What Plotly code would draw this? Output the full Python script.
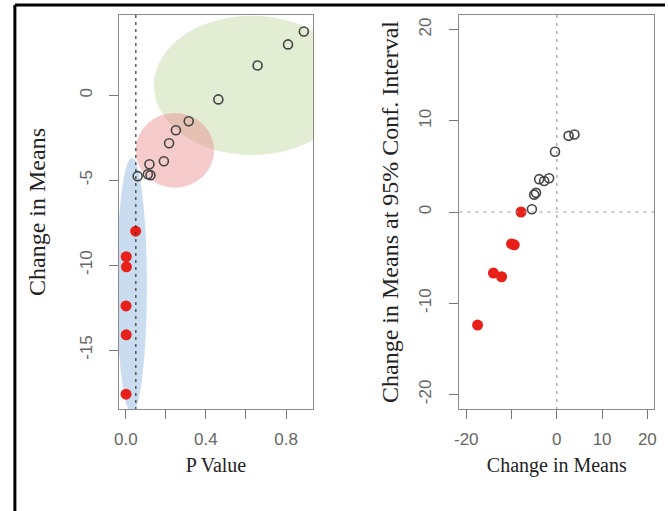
import plotly.graph_objects as go

# ---- Left panel data: P value vs change in means ----
p_sig = [0.049, 0.002, 0.003, 0.001, 0.002, 0.001]
change_sig = [-8.0, -9.5, -10.1, -12.4, -14.1, -17.6]
p_ns = [0.889, 0.81, 0.658, 0.462, 0.314, 0.25, 0.216, 0.19, 0.118, 0.123, 0.11, 0.059]
change_ns = [3.76, 3.0, 1.76, -0.24, -1.53, -2.06, -2.82, -3.88, -4.06, -4.7, -4.65, -4.76]
p_threshold = 0.05

# ---- Right panel data: change in means vs change at 95% conf. interval ----
mean_sig = [-7.9, -10.0, -9.4, -14.0, -12.2, -17.5]
ci_sig = [0.0, -3.5, -3.6, -6.7, -7.1, -12.4]
mean_ns = [3.9, 2.6, -0.4, -1.7, -2.8, -3.9, -4.6, -5.0, -5.5]
ci_ns = [8.5, 8.35, 6.6, 3.7, 3.4, 3.6, 2.1, 1.9, 0.3]

# ---- tick labels ----
left_x_ticks = [0.0, 0.2, 0.4, 0.6, 0.8]
left_x_labels = ["0.0", "", "0.4", "", "0.8"]
left_y_ticks = [0, -5, -10, -15]
left_y_labels = ["0", "-5", "-10", "-15"]
right_x_ticks = [-20, -10, 0, 10, 20]
right_x_labels = ["-20", "", "0", "10", "20"]
right_y_ticks = [-20, -10, 0, 10, 20]
right_y_labels = ["-20", "-10", "0", "10", "20"]

# ---- highlight ellipses (center x, center y, radius x, radius y) in left-panel data units ----
ell_blue = (0.03, -11.2, 0.075, 7.5)
ell_red = (0.245, -3.24, 0.196, 2.2)
ell_green = (0.63, 0.59, 0.49, 4.1)

W, H = 668, 511
fig = go.Figure()

sig_marker = dict(symbol="circle", size=11, color="#e8201a", line=dict(width=0))
ns_marker = dict(symbol="circle-open", size=9, color="#444444", line=dict(width=1.6))

fig.add_trace(go.Scatter(x=p_ns, y=change_ns, mode="markers", marker=ns_marker,
                         xaxis="x", yaxis="y", showlegend=False))
fig.add_trace(go.Scatter(x=p_sig, y=change_sig, mode="markers", marker=sig_marker,
                         xaxis="x", yaxis="y", showlegend=False))
fig.add_trace(go.Scatter(x=mean_ns, y=ci_ns, mode="markers", marker=ns_marker,
                         xaxis="x2", yaxis="y2", showlegend=False))
fig.add_trace(go.Scatter(x=mean_sig, y=ci_sig, mode="markers", marker=sig_marker,
                         xaxis="x2", yaxis="y2", showlegend=False))

shapes = []
for (cx, cy, rx, ry), col in [(ell_green, "rgba(190,215,160,0.45)"),
                              (ell_red, "rgba(232,140,140,0.45)"),
                              (ell_blue, "rgba(150,185,225,0.5)")]:
    shapes.append(dict(type="circle", xref="x", yref="y", x0=cx - rx, x1=cx + rx,
                       y0=cy - ry, y1=cy + ry, fillcolor=col, line=dict(width=0), layer="below"))

# threshold line
shapes.append(dict(type="line", xref="x", yref="paper", x0=p_threshold, x1=p_threshold,
                   y0=1 - 15 / H, y1=1 - 409 / H, line=dict(color="#333333", width=1.2, dash="3px,4px")))
# zero reference lines on right panel
shapes.append(dict(type="line", xref="x2", yref="paper", x0=0, x1=0,
                   y0=1 - 15 / H, y1=1 - 409 / H, line=dict(color="#999999", width=1.2, dash="3px,5px")))
shapes.append(dict(type="line", xref="paper", yref="y2", x0=460 / W, x1=657 / W,
                   y0=0, y1=0, line=dict(color="#999999", width=1.2, dash="3px,5px")))
# outer black frame (top & left)
shapes.append(dict(type="line", xref="paper", yref="paper", x0=10 / W, x1=1, y0=1 - 5 / H, y1=1 - 5 / H,
                   line=dict(color="black", width=3)))
shapes.append(dict(type="line", xref="paper", yref="paper", x0=10 / W, x1=10 / W, y0=0, y1=1 - 5 / H,
                   line=dict(color="black", width=3)))

axis_common = dict(showline=True, mirror=True, linecolor="#8a8a8a", linewidth=1.2,
                   ticks="outside", ticklen=9, tickcolor="#777777", tickwidth=1.2,
                   showgrid=False, zeroline=False,
                   tickfont=dict(family="Liberation Sans, Arial", size=17, color="#666666"))
xtitle_font = dict(family="Liberation Serif, Times New Roman", size=20, color="#222222")
ytitle_font = dict(family="Liberation Serif, Times New Roman", size=24, color="#222222")

fig.update_layout(
    width=W, height=H, margin=dict(l=0, r=0, t=0, b=0),
    paper_bgcolor="white", plot_bgcolor="rgba(0,0,0,0)",
    xaxis=dict(domain=[115 / W, 312 / W], range=[-0.036, 0.936], tickvals=left_x_ticks,
               ticktext=left_x_labels, ticklabelstandoff=5,
               title=dict(text="P Value", standoff=10, font=xtitle_font), anchor="y", **axis_common),
    yaxis=dict(domain=[1 - 409 / H, 1 - 15 / H], range=[-18.47, 4.73], tickvals=left_y_ticks,
               ticktext=left_y_labels, tickangle=-90, ticklabelstandoff=10,
               title=dict(text="Change in Means", standoff=24, font=ytitle_font),
               anchor="x", **axis_common),
    xaxis2=dict(domain=[460 / W, 657 / W], range=[-21.5, 21.5], tickvals=right_x_ticks,
                ticktext=right_x_labels, ticklabelstandoff=5,
                title=dict(text="Change in Means", standoff=10, font=xtitle_font), anchor="y2", **axis_common),
    yaxis2=dict(domain=[1 - 409 / H, 1 - 15 / H], range=[-21.6, 21.6], tickvals=right_y_ticks,
                ticktext=right_y_labels, tickangle=-90, ticklabelstandoff=12,
                title=dict(text="Change in Means at 95% Conf. Interval", standoff=10, font=ytitle_font),
                anchor="x2", **axis_common),
    shapes=shapes,
)

fig.write_html("out.html", config={"displayModeBar": False},
               post_script="document.body.style.margin='0px';")
